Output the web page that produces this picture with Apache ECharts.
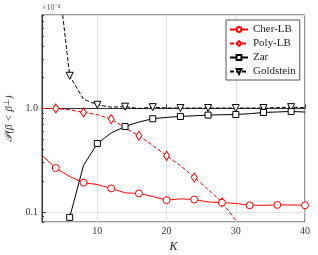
<!DOCTYPE html>
<html><head><meta charset="utf-8">
<script src="https://cdn.jsdelivr.net/npm/echarts@6/dist/echarts.min.js"></script>
<style>html,body{margin:0;padding:0;background:#fff}#c{width:318px;height:255px}</style>
</head><body><div id="c"></div>
<script>
const K = [2,4,6,8,10,12,14,16,18,20,22,24,26,28,30,32,34,36,38,40];
const cherLB = [0.352,0.266,0.22,0.192,0.184,0.169,0.153,0.151,0.141,0.130,0.134,0.132,0.125,0.123,0.121,0.116,0.116,0.117,0.117,0.116];
const polyLB = [1.0,1.0,0.97,0.915,0.87,0.79,0.65,0.545,0.44,0.349,0.28,0.216,0.165,0.124,0.083,0.055,null,null,null,null];
const zar = [null,null,0.0887,0.282,0.459,0.58,0.67,0.74,0.796,0.82,0.837,0.85,0.863,0.87,0.875,0.89,0.915,0.925,0.936,0.923];
const goldstein = [null,30,2.07,1.23,1.085,1.03,1.04,1.0,1.03,1.01,1.01,1.01,1.01,1.01,1.01,1.01,1.01,1.02,1.03,1.02];
const seriesNames = ['Cher-LB','Poly-LB','Zar','Goldstein'];
const xTicks = [10,20,30,40];
const yMajor = [0.1,1.0];
const yMinor = [0.08,0.09,0.2,0.3,0.4,0.5,0.6,0.7,0.8,0.9,2,3,4,5,6,7,8];
const yMin = 0.08, yMax = 8;

const serif = 'Liberation Serif';
function build(vals, markOdd, sym) {
  return K.map((k,i) => {
    const v = vals[i];
    if (v == null) return [k, null];
    return {value:[k,v], symbol: (i%2 === (markOdd?1:0)) ? sym : 'none'};
  });
}
function mk(name, vals, markOdd, sym, color, dashed, size, rot) {
  return {
    name, type:'line', data: build(vals, markOdd, sym), symbol: sym, symbolSize: size,
    symbolRotate: rot || 0, connectNulls:false, clip:true,
    lineStyle:{color, width:1, type: dashed ? [4,2] : 'solid'},
    itemStyle:{color:'#fff', borderColor:color, borderWidth:1},
    emphasis:{disabled:true}, animation:false
  };
}
const chart = echarts.init(document.getElementById('c'), null, {renderer:'canvas'});
chart.setOption({
  animation:false,
  grid:{left:42, right:13, top:15, bottom:33, show:true, borderColor:'#333', borderWidth:1,
        backgroundColor:'transparent', outerBoundsMode:'none', containLabel:false},
  legend:{
    data: seriesNames, orient:'vertical', left:226, top:20,
    itemWidth:18, itemHeight:6, itemGap:3, padding:[4,4,3,3],
    borderColor:'#555', borderWidth:1, backgroundColor:'#fff',
    textStyle:{fontFamily:serif, fontSize:11, color:'#222'}
  },
  xAxis:{
    type:'value', min:2, max:40, splitNumber:4,
    name:'K', nameLocation:'middle', nameGap:7,
    nameTextStyle:{fontFamily:serif, fontStyle:'italic', fontSize:12, color:'#222'},
    axisLine:{lineStyle:{color:'#333'}},
    axisTick:{inside:true, length:4, lineStyle:{color:'#333'}, customValues: xTicks},
    axisLabel:{fontFamily:serif, fontSize:10, color:'#333', margin:4, customValues: xTicks},
    splitLine:{show:true, lineStyle:{color:'#e2e2e2', width:1}}
  },
  yAxis:[{
    type:'log', min:yMin, max:yMax, logBase:10, position:'left',
    name:'{a|𝒫(β < β}{s|⊥}{a|)}', nameLocation:'middle', nameGap:18, nameRotate:90,
    nameTextStyle:{rich:{a:{fontFamily:serif, fontStyle:'italic', fontSize:11, color:'#333'},
                         s:{fontFamily:serif, fontSize:8, color:'#333', verticalAlign:'top', padding:[0,0,5,0]}}},
    axisLine:{show:true, lineStyle:{color:'#333'}},
    axisTick:{inside:true, length:4, lineStyle:{color:'#333'}},
    axisLabel:{fontFamily:serif, fontSize:10, color:'#333', margin:4, showMinLabel:false, showMaxLabel:false,
      formatter: v => (Math.abs(v-1)<1e-9 ? '1.0' : (Math.abs(v-0.1)<1e-9 ? '0.1' : ''))},
    splitLine:{show:true, lineStyle:{color:'#e2e2e2', width:1}}
  },{
    type:'value', min:Math.log10(yMin), max:Math.log10(yMax), position:'left',
    name:'×10⁻⁴', nameLocation:'end', nameGap:3,
    nameTextStyle:{fontFamily:serif, fontSize:8, color:'#555', align:'left', verticalAlign:'bottom', padding:[0,0,0,0]},
    axisLine:{show:false},
    axisTick:{show:true, inside:true, length:2, lineStyle:{color:'#333'}, customValues: yMinor.map(v=>Math.log10(v))},
    axisLabel:{show:false},
    splitLine:{show:false}
  }],
  series:[
    mk('Goldstein', goldstein, false, 'triangle', '#000', true, 7, 180),
    mk('Zar', zar, false, 'rect', '#000', false, 6),
    mk('Poly-LB', polyLB, true, 'diamond', '#ff0000', true, [6,9]),
    mk('Cher-LB', cherLB, true, 'circle', '#ff0000', false, 7)
  ]
});
</script></body></html>
